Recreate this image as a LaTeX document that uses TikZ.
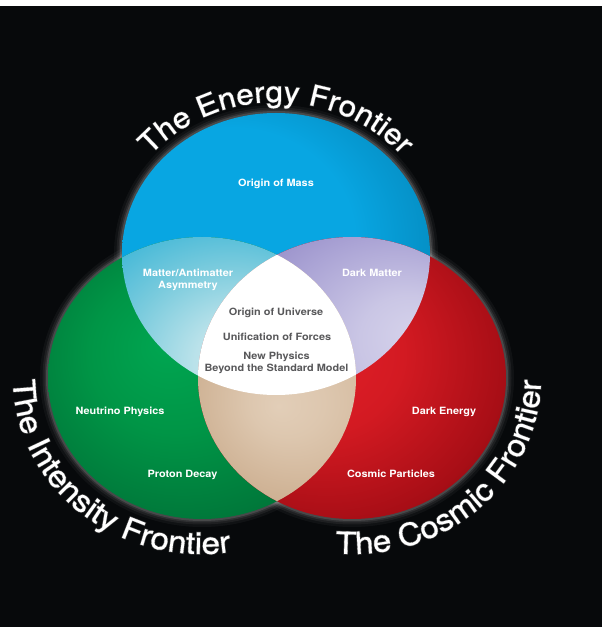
\documentclass[tikz,border=0pt]{standalone}
\usepackage{fontspec}
\usetikzlibrary{calc,decorations.text}

% Helvetica-like face, slightly widened
\newfontfamily\hv[FakeStretch=1.09]{TeX Gyre Heros}
\newfontfamily\hvtitle[FakeStretch=1.09,FakeBold=0.4]{TeX Gyre Heros}
\newfontfamily\hvglow[FakeStretch=1.09,FakeBold=5]{TeX Gyre Heros}
\newcommand\energyfont{\hvtitle\fontsize{29}{29}\selectfont}
\newcommand\energyglow{\hvglow\fontsize{29}{29}\selectfont}
\newcommand\sidefont{\hvtitle\fontsize{30.5}{30.5}\selectfont}
\newcommand\sideglow{\hvglow\fontsize{30.5}{30.5}\selectfont}

\definecolor{bgblack}{HTML}{07090B}
\definecolor{bluelight}{HTML}{08A6E2}
\definecolor{bluemid}{HTML}{0590C6}
\definecolor{bluedark}{HTML}{03577A}
\definecolor{greenlight}{HTML}{00A651}
\definecolor{greenmid}{HTML}{009546}
\definecolor{greendeep}{HTML}{00783A}
\definecolor{greendark}{HTML}{005A2B}
\definecolor{redlight}{HTML}{E4202A}
\definecolor{redmid}{HTML}{D31A22}
\definecolor{reddeep}{HTML}{A80E16}
\definecolor{reddark}{HTML}{6E0308}
\definecolor{cyanA}{HTML}{D6EDF1}
\definecolor{cyanB}{HTML}{BAE2EA}
\definecolor{cyanC}{HTML}{7ACBDD}
\definecolor{cyanD}{HTML}{3EB6D7}
\definecolor{lavA}{HTML}{D6D3EB}
\definecolor{lavB}{HTML}{CAC6E5}
\definecolor{lavC}{HTML}{ABA4D5}
\definecolor{lavD}{HTML}{968DC8}
\definecolor{tanA}{HTML}{E2CEB8}
\definecolor{tanB}{HTML}{DDC7AF}
\definecolor{tanC}{HTML}{D0B497}
\definecolor{tanD}{HTML}{C2A082}
\definecolor{labelgray}{HTML}{58585A}
\definecolor{glowgray}{HTML}{5A5A5A}

\pgfdeclareradialshading{bluefill}{\pgfpoint{-12bp}{4bp}}{color(0bp)=(bluelight); color(20bp)=(bluelight); color(30bp)=(bluemid); color(40bp)=(bluedark); color(50bp)=(bluedark)}
\pgfdeclareradialshading{greenfill}{\pgfpoint{-6bp}{6bp}}{color(0bp)=(greenlight); color(14bp)=(greenmid); color(28bp)=(greendeep); color(40bp)=(greendark); color(50bp)=(greendark)}
\pgfdeclareradialshading{redfill}{\pgfpoint{-8bp}{6bp}}{color(0bp)=(redlight); color(14bp)=(redmid); color(28bp)=(reddeep); color(40bp)=(reddark); color(50bp)=(reddark)}
\pgfdeclareradialshading{cyanfill}{\pgfpoint{8bp}{3bp}}{color(0bp)=(cyanA); color(8bp)=(cyanB); color(18bp)=(cyanC); color(28bp)=(cyanD); color(50bp)=(cyanD)}
\pgfdeclareradialshading{lavfill}{\pgfpoint{11bp}{8bp}}{color(0bp)=(lavA); color(8bp)=(lavB); color(20bp)=(lavC); color(28bp)=(lavD); color(50bp)=(lavD)}
\pgfdeclareradialshading{tanfill}{\pgfpoint{-12bp}{-5bp}}{color(0bp)=(tanA); color(6bp)=(tanB); color(17bp)=(tanC); color(30bp)=(tanD); color(50bp)=(tanD)}

% the three frontier discs
\def\discEnergy{(276,373) ellipse [x radius=154pt, y radius=141pt]}
\def\discIntensity{(202,249) ellipse [x radius=154pt, y radius=141pt]}
\def\discCosmic{(352,249) ellipse [x radius=154pt, y radius=141pt]}

% baselines of the curved titles
\def\arcEnergy{($(cB)+(160:165pt and 152pt)$) arc[start angle=160, end angle=20, x radius=165pt, y radius=152pt]}
\def\arcIntensity{($(cG)+(148:189pt and 176pt)$) arc[start angle=148, end angle=310, x radius=189pt, y radius=176pt]}
\def\arcCosmic{($(cR)+(233:189pt and 176pt)$) arc[start angle=233, end angle=393, x radius=189pt, y radius=176pt]}

\begin{document}
\begin{tikzpicture}[x=1pt,y=1pt,
  lbl/.style={font=\hv\bfseries\fontsize{10}{11.7}\selectfont, text=white, align=center, inner sep=0pt},
  lblcore/.style={lbl, text=labelgray},
  titletext/.style 2 args={decorate, decoration={text along path, text align=center, text color=#1, text={#2}}}
  ]
\useasboundingbox (0,0) rectangle (602,627);
\fill[bgblack] (0,0) rectangle (602,621);
\fill[white] (0,621) rectangle (602,627);

\coordinate (cB) at (276,373);
\coordinate (cG) at (202,249);
\coordinate (cR) at (352,249);

% soft halo round the discs
\foreach \w/\o in {16/0.04, 11/0.06, 7/0.08, 4/0.12}{
  \draw[white, line width=\w pt, opacity=\o] \discEnergy;
  \draw[white, line width=\w pt, opacity=\o] \discIntensity;
  \draw[white, line width=\w pt, opacity=\o] \discCosmic;
}

% discs
\shade[shading=bluefill] \discEnergy;
\shade[shading=greenfill] \discIntensity;
\shade[shading=redfill] \discCosmic;

% pairwise overlaps
\begin{scope}
  \clip \discEnergy;
  \shade[shading=cyanfill] \discIntensity;
  \shade[shading=lavfill] \discCosmic;
\end{scope}
\begin{scope}
  \clip \discIntensity;
  \shade[shading=tanfill] \discCosmic;
\end{scope}
% common centre
\begin{scope}
  \clip \discEnergy;
  \clip \discIntensity;
  \fill[white] \discCosmic;
\end{scope}

% labels inside the discs
\node[lbl, anchor=base] (mass) at (276,440.5) {Origin of Mass};
\node[lbl] (asym) at (188,347) {Matter/Antimatter\\Asymmetry};
\node[lbl, anchor=base] (dm) at (372,350.5) {Dark Matter};
\node[lblcore, anchor=base] (univ) at (276,311) {Origin of Universe};
\node[lblcore, anchor=base] (unif) at (277,286.3) {Unification of Forces};
\node[lblcore] (newphys) at (276.5,264) {New Physics\\Beyond the Standard Model};
\node[lbl, anchor=base] (nu) at (120,212) {Neutrino Physics};
\node[lbl, anchor=base] (pdecay) at (182.5,149.5) {Proton Decay};
\node[lbl, anchor=base] (de) at (444,212) {Dark Energy};
\node[lbl, anchor=base] (cp) at (391,149.5) {Cosmic Particles};

% curved titles: grey glow underneath, white lettering on top
\begin{scope}[opacity=0.6]
\path[titletext={glowgray}{|\energyglow|The Energy Frontier}] \arcEnergy;
\path[titletext={glowgray}{|\sideglow|The Intensity Frontier}] \arcIntensity;
\path[titletext={glowgray}{|\sideglow|The Cosmic Frontier}] \arcCosmic;
\end{scope}
\path[titletext={white}{|\energyfont|The Energy Frontier}] \arcEnergy;
\path[titletext={white}{|\sidefont|The Intensity Frontier}] \arcIntensity;
\path[titletext={white}{|\sidefont|The Cosmic Frontier}] \arcCosmic;
\end{tikzpicture}
\end{document}
